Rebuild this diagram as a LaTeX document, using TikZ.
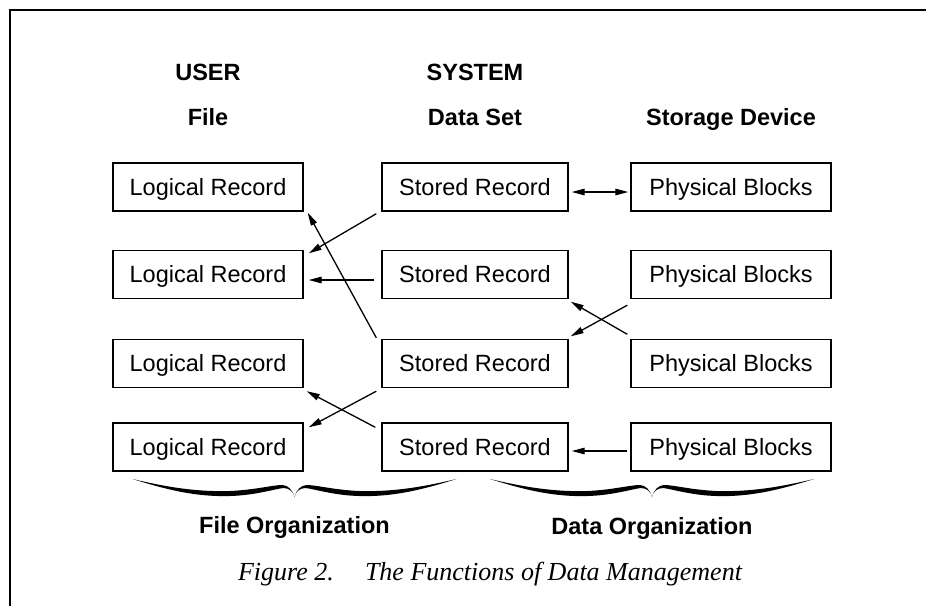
\documentclass[tikz,border=0pt]{standalone}
\usepackage{fontspec}
\usetikzlibrary{arrows.meta}
\setmainfont{Liberation Serif}
\newfontfamily\boxfont{Liberation Sans}

\tikzset{
  rec/.style={draw, line width=1.4pt, minimum width=#1, minimum height=48pt,
    inner sep=0pt, font=\boxfont\fontsize{23.5pt}{27pt}\selectfont,
    text height=16.9pt, text depth=0pt},
  hdr/.style={anchor=base, inner sep=0pt,
    font=\boxfont\bfseries\fontsize{23.5pt}{27pt}\selectfont},
  link/.style={line width=1.3pt, -{Triangle[length=13pt,width=6.5pt]}},
  biglink/.style={line width=1.3pt, {Triangle[length=13pt,width=6.5pt]}-{Triangle[length=13pt,width=6.5pt]}},
  frameline/.style={line width=1.8pt},
}

\begin{document}
\begin{tikzpicture}[x=1pt,y=-1pt]
\useasboundingbox (0,0) rectangle (926,606);

% open frame: top and left rules
\draw[frameline] (10,606) -- (10,10) -- (926,10);

% column headings
\node[hdr] (user) at (208,80) {USER};
\node[hdr] (system) at (475,80) {SYSTEM};
\node[hdr] (file) at (208,125) {File};
\node[hdr] (dataset) at (475,125) {Data Set};
\node[hdr] (device) at (731,125) {Storage Device};

% record and block boxes
\node[rec=190pt] (l1) at (208,187)   {Logical Record};
\node[rec=190pt] (l2) at (208,274.5) {Logical Record};
\node[rec=190pt] (l3) at (208,363.5) {Logical Record};
\node[rec=190pt] (l4) at (208,447)   {Logical Record};

\node[rec=186pt] (s1) at (475,187)   {Stored Record};
\node[rec=186pt] (s2) at (475,274.5) {Stored Record};
\node[rec=186pt] (s3) at (475,363.5) {Stored Record};
\node[rec=186pt] (s4) at (475,447)   {Stored Record};

\node[rec=200pt] (p1) at (731,187)   {Physical Blocks};
\node[rec=200pt] (p2) at (731,274.5) {Physical Blocks};
\node[rec=200pt] (p3) at (731,363.5) {Physical Blocks};
\node[rec=200pt] (p4) at (731,447)   {Physical Blocks};

% mappings between the levels
\draw[biglink] ([xshift=3pt,yshift=-5pt]s1.east) -- ([xshift=-2pt,yshift=-5pt]p1.west);
\draw[link] ([xshift=-5pt,yshift=-2pt]s1.south west) -- ([xshift=5pt,yshift=-3.5pt]l2.north east);
\draw[link] ([xshift=-7pt,yshift=-5.5pt]s2.west) -- ([xshift=5pt,yshift=-5.5pt]l2.east);
\draw[link] ([xshift=-5pt,yshift=1pt]s3.north west) -- ([xshift=4pt,yshift=-1pt]l1.south east);
\draw[link] ([xshift=-3pt,yshift=-6pt]p2.south west) -- ([xshift=2pt,yshift=2.5pt]s3.north east);
\draw[link] ([xshift=-3pt,yshift=4.5pt]p3.north west) -- ([xshift=2pt,yshift=-2.5pt]s2.south east);
\draw[link] ([xshift=-5pt,yshift=-3pt]s3.south west) -- ([xshift=5pt,yshift=-5pt]l4.north east);
\draw[link] ([xshift=-6pt,yshift=-5pt]s4.north west) -- ([xshift=3pt,yshift=-3pt]l3.south east);
\draw[link] ([xshift=-3pt,yshift=-4pt]p4.west) -- ([xshift=3pt,yshift=-4pt]s4.east);

% curly braces under the two groups of columns
\foreach \cx in {294.5,652}{
  \begin{scope}[shift={(\cx,0)}]
    \foreach \s in {1,-1}{
      \fill[xscale=\s] (-162,479) .. controls (-130,489) and (-100,497) .. (-65,496)
        .. controls (-40,495.5) and (-20,489) .. (-11,488)
        .. controls (-5,488) and (-1,492) .. (0,497)
        .. controls (-2,490) and (-6,485.5) .. (-12,485)
        .. controls (-22,485) and (-40,490) .. (-65,491)
        .. controls (-100,492) and (-130,486.5) .. cycle;
    }
  \end{scope}
}

\node[hdr] (fileorg) at (294.5,533) {File Organization};
\node[hdr] (dataorg) at (652,534) {Data Organization};

% caption
\node[anchor=base, inner sep=0pt, font=\itshape\fontsize{26pt}{30pt}\selectfont]
  (caption) at (490,580) {Figure 2.\hspace{1.2em}The Functions of Data Management};
\end{tikzpicture}
\end{document}
